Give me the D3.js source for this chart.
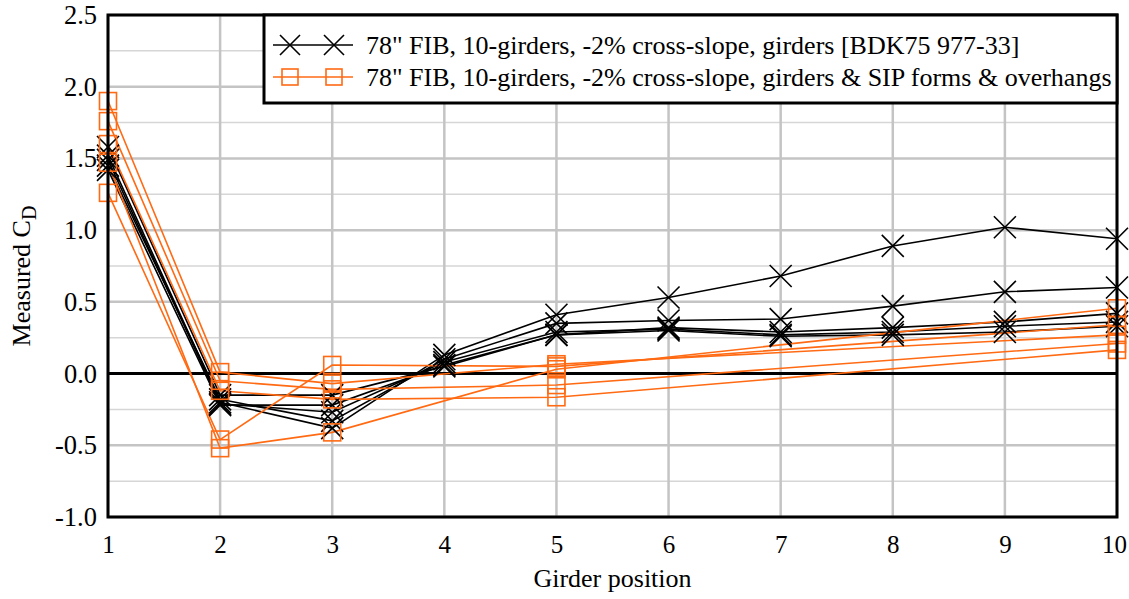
<!DOCTYPE html>
<html><head><meta charset="utf-8">
<script src="https://cdn.jsdelivr.net/npm/d3@7"></script>
<style>body{margin:0;background:#fff}svg{display:block}text{font-family:"Liberation Serif","Times New Roman",Times,serif}</style>
</head><body>
<svg id="c" width="1129" height="599"></svg>
<script>
const positions = [1,2,3,4,5,6,7,8,9,10];
const yTicks = [-1.0,-0.5,0.0,0.5,1.0,1.5,2.0,2.5];
const seriesNames = [
  "78\" FIB, 10-girders, -2% cross-slope, girders [BDK75 977-33]",
  "78\" FIB, 10-girders, -2% cross-slope, girders & SIP forms & overhangs"
];
// girders only (black, X markers)
const black1 = [1.52,-0.20,-0.38,0.13,0.41,0.53,0.68,0.89,1.02,0.94];
const black2 = [1.45,-0.18,-0.33,0.10,0.35,0.37,0.38,0.47,0.57,0.60];
const black3 = [1.58,-0.15,-0.15,0.05,0.27,0.32,0.29,0.32,0.36,0.42];
const black4 = [1.49,-0.21,-0.27,0.08,0.29,0.31,0.27,0.29,0.33,0.36];
const black5 = [1.42,-0.22,-0.22,0.06,0.27,0.30,0.26,0.27,0.29,0.33];
// girders & SIP forms & overhangs (orange, square markers) - measured only at 1,2,3,5,10
const orange1 = [1.90,0.01,-0.07,null,0.065,null,null,null,null,0.27];
const orange2 = [1.76,-0.05,-0.11,null,-0.08,null,null,null,null,0.21];
const orange3 = [1.60,-0.12,-0.18,null,-0.165,null,null,null,null,0.165];
const orange4 = [1.47,-0.52,-0.41,null,0.03,null,null,null,null,0.455];
const orange5 = [1.26,-0.46,0.06,null,0.05,null,null,null,null,0.34];

const blackSeries = [black1,black2,black3,black4,black5];
const orangeSeries = [orange1,orange2,orange3,orange4,orange5];
const ORANGE = "#ff6a13";
const FONT = "Liberation Serif";

const svg = d3.select("#c");
const L=108,R=1117,T=15,B=517;
const x = d3.scaleLinear().domain([1,10]).range([L,R]);
const y = d3.scaleLinear().domain([-1,2.5]).range([B,T]);

// grid
const g = svg.append("g");
d3.range(-1,2.5001,0.25).forEach(v=>{
  const major = Math.abs(v*2-Math.round(v*2))<1e-6;
  g.append("line").attr("x1",L).attr("x2",R).attr("y1",y(v)).attr("y2",y(v))
   .attr("stroke",major?"#c4c4c4":"#d6d6d6").attr("stroke-width",major?2.5:1.5);
});
positions.forEach(p=>{
  g.append("line").attr("x1",x(p)).attr("x2",x(p)).attr("y1",T).attr("y2",B)
   .attr("stroke","#c4c4c4").attr("stroke-width",2.5);
});
g.append("line").attr("x1",L).attr("x2",R).attr("y1",y(0)).attr("y2",y(0))
 .attr("stroke","#000").attr("stroke-width",3);

// axes
const yAxis = d3.axisLeft(y).tickValues(yTicks).tickFormat(d=>d3.format(".1f")(d).replace("−","-")).tickSize(0).tickPadding(11);
const ya = svg.append("g").attr("transform",`translate(${L},0)`).call(yAxis);
ya.attr("font-family",FONT).attr("font-size",26.5);
ya.select(".domain").remove();
ya.selectAll("text").attr("fill","#000");
const xAxis = d3.axisBottom(x).tickValues(positions).tickFormat(d3.format("d")).tickSize(0).tickPadding(18);
const xa = svg.append("g").attr("transform",`translate(0,${B})`).call(xAxis);
xa.attr("font-family",FONT).attr("font-size",25);
xa.select(".domain").remove();
xa.selectAll("text").attr("fill","#000");
xa.selectAll(".tick").filter(d=>d===10).select("text").attr("dx",-3);

// lines
const line = d3.line().x(d=>x(d.p)).y(d=>y(d.v));
const toPts = arr => arr.map((v,i)=>({p:positions[i],v})).filter(d=>d.v!==null);
const plot = svg.append("g");
blackSeries.forEach(s=>{
  plot.append("path").attr("d",line(toPts(s))).attr("fill","none").attr("stroke","#000").attr("stroke-width",1.6);
});
orangeSeries.forEach(s=>{
  plot.append("path").attr("d",line(toPts(s))).attr("fill","none").attr("stroke",ORANGE).attr("stroke-width",1.6);
});
const xMark = (sel,cx,cy,r)=>sel.append("path")
  .attr("d",`M${cx-r},${cy-r}L${cx+r},${cy+r}M${cx-r},${cy+r}L${cx+r},${cy-r}`)
  .attr("stroke","#000").attr("stroke-width",1.6).attr("fill","none");
const sqMark = (sel,cx,cy,r)=>sel.append("rect").attr("x",cx-r).attr("y",cy-r).attr("width",2*r).attr("height",2*r)
  .attr("fill","none").attr("stroke",ORANGE).attr("stroke-width",1.6);
blackSeries.forEach(s=>toPts(s).forEach(d=>xMark(plot,x(d.p),y(d.v),11)));
orangeSeries.forEach(s=>toPts(s).forEach(d=>sqMark(plot,x(d.p),y(d.v),8.5)));

// border
svg.append("rect").attr("x",L).attr("y",T).attr("width",R-L).attr("height",B-T)
  .attr("fill","none").attr("stroke","#000").attr("stroke-width",3);

// legend
const lg = svg.append("g");
lg.append("rect").attr("x",264).attr("y",15).attr("width",R-264).attr("height",88)
  .attr("fill","#fff").attr("stroke","#000").attr("stroke-width",3);
[[45,"#000",xMark],[77,ORANGE,sqMark]].forEach(([ly,col,mk],i)=>{
  lg.append("line").attr("x1",273).attr("x2",353).attr("y1",ly).attr("y2",ly).attr("stroke",col).attr("stroke-width",1.6);
  mk(lg,290,ly,i===0?10:8);
  mk(lg,334,ly,i===0?10:8);
  lg.append("text").attr("x",366).attr("y",ly).attr("dy","0.35em").attr("font-family",FONT).attr("font-size",26).attr("fill","#000").text(seriesNames[i]);
});

// titles
svg.append("text").attr("x",(L+R)/2).attr("y",587).attr("text-anchor","middle").attr("font-family",FONT).attr("font-size",26).text("Girder position");
const yt = svg.append("text").attr("transform","translate(30,276) rotate(-90)").attr("text-anchor","middle").attr("font-family",FONT).attr("font-size",26);
yt.append("tspan").text("Measured C");
yt.append("tspan").attr("dy",6).attr("font-size",20).text("D");
</script>
</body></html>
